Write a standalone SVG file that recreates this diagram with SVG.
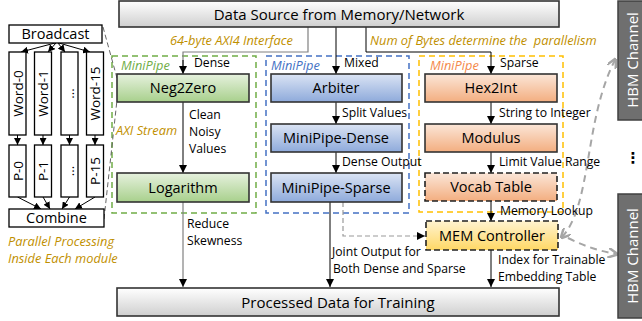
<svg xmlns="http://www.w3.org/2000/svg" width="642" height="321" viewBox="0 0 642 321">
<defs>
<linearGradient id="gGray" x1="0" y1="0" x2="0" y2="1"><stop offset="0" stop-color="#ffffff"/><stop offset="1" stop-color="#cfcfcf"/></linearGradient>
<linearGradient id="gGreen" x1="0" y1="0" x2="0" y2="1"><stop offset="0" stop-color="#e6f1de"/><stop offset="1" stop-color="#a8d08c"/></linearGradient>
<linearGradient id="gBlue" x1="0" y1="0" x2="0" y2="1"><stop offset="0" stop-color="#dbe4f4"/><stop offset="1" stop-color="#8eaadb"/></linearGradient>
<linearGradient id="gOrange" x1="0" y1="0" x2="0" y2="1"><stop offset="0" stop-color="#fbe6d8"/><stop offset="1" stop-color="#f3ae80"/></linearGradient>
<linearGradient id="gYellow" x1="0" y1="0" x2="0" y2="1"><stop offset="0" stop-color="#fff3d0"/><stop offset="1" stop-color="#ffd866"/></linearGradient>
<marker id="arr" viewBox="0 0 10 10" refX="10" refY="5" markerWidth="8" markerHeight="8" markerUnits="userSpaceOnUse" orient="auto"><path d="M0,0 L10,5 L0,10 z" fill="#000"/></marker>
<marker id="arrS" viewBox="0 0 10 10" refX="10" refY="5" markerWidth="7" markerHeight="7" markerUnits="userSpaceOnUse" orient="auto"><path d="M0,0 L10,5 L0,10 z" fill="#000"/></marker>
<marker id="arrG" viewBox="0 0 10 10" refX="8" refY="5" markerWidth="10" markerHeight="10" markerUnits="userSpaceOnUse" orient="auto"><path d="M0,0 L10,5 L0,10" fill="none" stroke="#a6a6a6" stroke-width="2.5"/></marker>
<marker id="arrGs" viewBox="0 0 10 10" refX="8" refY="5" markerWidth="10" markerHeight="10" markerUnits="userSpaceOnUse" orient="auto-start-reverse"><path d="M0,0 L10,5 L0,10" fill="none" stroke="#a6a6a6" stroke-width="2.5"/></marker>
</defs>
<style>
text{font-family:"Open Sans","Noto Sans","DejaVu Sans",sans-serif;fill:#000;white-space:pre}
.big{font-size:14.5px;text-anchor:middle}
.hdr{font-size:15px;text-anchor:middle}
.lbl{font-size:12.2px}
.ital{font-size:12.8px;font-style:italic;fill:#bf9000}
.mp{font-size:12.8px;font-style:italic}
.box{stroke:#333;stroke-width:1.6}
.dbox{stroke:#222;stroke-width:1.6;stroke-dasharray:6 3}
.wbox{fill:#fff;stroke:#000;stroke-width:1.3}
.wt{font-size:13.5px;text-anchor:middle}
.ln{fill:none;stroke:#000;stroke-width:1}
.lg{fill:none;stroke:#808080;stroke-width:1.2}
.hbm{fill:#6f6f6f;stroke:#404040;stroke-width:1.5}
.ht{font-size:15px;fill:#fff;text-anchor:middle}
.gd{fill:none;stroke:#a6a6a6;stroke-width:2;stroke-dasharray:7 5}
</style>

<!-- MiniPipe containers -->
<g id="minipipe-green">
<rect x="112" y="56" width="144" height="157" fill="none" stroke="#70ad47" stroke-width="1.5" stroke-dasharray="6 4"/>
<text class="mp" x="121" y="70" style="fill:#70ad47">MiniPipe</text>
</g>
<g id="minipipe-blue">
<rect x="266" y="56" width="143" height="157" fill="none" stroke="#4472c4" stroke-width="1.5" stroke-dasharray="6 4"/>
<text class="mp" x="271" y="70" style="fill:#4472c4">MiniPipe</text>
</g>
<g id="minipipe-orange">
<rect x="419" y="56" width="144" height="156" fill="none" stroke="#ffc000" stroke-width="1.5" stroke-dasharray="6 4"/>
<text class="mp" x="430" y="70" style="fill:#f4894b">MiniPipe</text>
</g>

<!-- Connectors -->
<g id="connectors">
<polyline class="lg" points="308,27 308,52 183,52 183,66"/>
<line class="ln" x1="183" y1="60" x2="183" y2="74" marker-end="url(#arr)"/>
<line class="ln" x1="336" y1="27" x2="336" y2="74" marker-end="url(#arr)"/>
<polyline class="ln" points="366,27 366,52 491,52 491,74" marker-end="url(#arr)"/>
<line class="ln" x1="183" y1="102" x2="183" y2="173" marker-end="url(#arr)"/>
<line class="lg" x1="183" y1="202" x2="183" y2="287" marker-end="url(#arr)"/>
<line class="ln" x1="336" y1="102" x2="336" y2="124" marker-end="url(#arr)"/>
<line class="ln" x1="336" y1="152" x2="336" y2="173" marker-end="url(#arr)"/>
<line class="ln" x1="330" y1="202" x2="330" y2="287" marker-end="url(#arr)"/>
<polyline points="343,202 343,236 425,236" fill="none" stroke="#999" stroke-width="1.2" stroke-dasharray="5 3" marker-end="url(#arr)"/>
<line class="ln" x1="491" y1="102" x2="491" y2="124" marker-end="url(#arr)"/>
<line class="ln" x1="491" y1="152" x2="491" y2="173" marker-end="url(#arr)"/>
<line class="ln" x1="491" y1="201" x2="491" y2="221" marker-end="url(#arr)"/>
<line class="ln" x1="491" y1="250" x2="491" y2="287" marker-end="url(#arr)"/>
<path class="gd" d="M562,237 C592,205 584,120 615,60" marker-start="url(#arrGs)" marker-end="url(#arrG)"/>
<path class="gd" d="M568,238 Q592,250 616,254" marker-end="url(#arrG)"/>
<!-- zoom lines -->
<line x1="103" y1="27" x2="117" y2="78" stroke="#555" stroke-width="0.9" stroke-dasharray="5 3"/>
<line x1="104" y1="219" x2="117" y2="100" stroke="#555" stroke-width="0.9" stroke-dasharray="5 3"/>
<!-- left panel arrows -->
<line class="ln" x1="55" y1="43" x2="21" y2="52" marker-end="url(#arrS)"/>
<line class="ln" x1="56" y1="43" x2="48" y2="52" marker-end="url(#arrS)"/>
<line class="ln" x1="58" y1="43" x2="65" y2="52" marker-end="url(#arrS)"/>
<line class="ln" x1="59" y1="43" x2="90" y2="52" marker-end="url(#arrS)"/>
<line class="ln" x1="17.5" y1="135" x2="17.5" y2="145" marker-end="url(#arrS)"/>
<line class="ln" x1="43" y1="135" x2="43" y2="145" marker-end="url(#arrS)"/>
<line class="ln" x1="69.5" y1="135" x2="69.5" y2="145" marker-end="url(#arrS)"/>
<line class="ln" x1="95" y1="135" x2="95" y2="145" marker-end="url(#arrS)"/>
<line class="ln" x1="17.5" y1="197" x2="41" y2="209" marker-end="url(#arrS)"/>
<line class="ln" x1="43" y1="197" x2="50" y2="209" marker-end="url(#arrS)"/>
<line class="ln" x1="69.5" y1="197" x2="62" y2="209" marker-end="url(#arrS)"/>
<line class="ln" x1="95" y1="197" x2="75" y2="209" marker-end="url(#arrS)"/>
</g>

<!-- Labels -->
<g id="labels">
<text class="ital" x="170" y="45">64-byte AXI4 Interface</text>
<text class="ital" x="370" y="45">Num of Bytes determine the  parallelism</text>
<text class="lbl" x="194" y="67">Dense</text>
<text class="lbl" x="344" y="67">Mixed</text>
<text class="lbl" x="500" y="67">Sparse</text>
<text class="lbl" x="189" y="119">Clean</text>
<text class="lbl" x="189" y="136">Noisy</text>
<text class="lbl" x="189" y="153">Values</text>
<text class="ital" x="116" y="135">AXI Stream</text>
<text class="lbl" x="187" y="228">Reduce</text>
<text class="lbl" x="187" y="245">Skewness</text>
<text class="lbl" x="342" y="117">Split Values</text>
<text class="lbl" x="342" y="166">Dense Output</text>
<text class="lbl" x="332" y="256">Joint Output for</text>
<text class="lbl" x="333" y="273">Both Dense and Sparse</text>
<text class="lbl" x="499" y="117">String to Integer</text>
<text class="lbl" x="499" y="166">Limit Value Range</text>
<text class="lbl" x="500" y="215">Memory Lookup</text>
<text class="lbl" x="498" y="264">Index for Trainable</text>
<text class="lbl" x="498" y="281">Embedding Table</text>
<text class="ital" x="8" y="246">Parallel Processing</text>
<text class="ital" x="8" y="263">Inside Each module</text>
</g>

<!-- Nodes -->
<g id="data-source"><rect class="box" x="119" y="1" width="440" height="26" fill="url(#gGray)"/><text class="hdr" x="339" y="19.5">Data Source from Memory/Network</text></g>
<g id="processed"><rect class="box" x="117" y="288" width="442" height="28" fill="url(#gGray)"/><text class="hdr" x="338" y="307.5">Processed Data for Training</text></g>
<g id="neg2zero"><rect class="box" x="117" y="74" width="132" height="28" fill="url(#gGreen)"/><text class="big" x="183" y="93">Neg2Zero</text></g>
<g id="logarithm"><rect class="box" x="117" y="173" width="132" height="29" fill="url(#gGreen)"/><text class="big" x="183" y="192.5">Logarithm</text></g>
<g id="arbiter"><rect class="box" x="271" y="74" width="131" height="28" fill="url(#gBlue)"/><text class="big" x="336" y="93">Arbiter</text></g>
<g id="minipipe-dense"><rect class="box" x="271" y="124" width="131" height="28" fill="url(#gBlue)"/><text class="big" x="336" y="143">MiniPipe-Dense</text></g>
<g id="minipipe-sparse"><rect class="box" x="271" y="173" width="131" height="29" fill="url(#gBlue)"/><text class="big" x="336" y="192.5">MiniPipe-Sparse</text></g>
<g id="hex2int"><rect class="box" x="425" y="74" width="132" height="28" fill="url(#gOrange)"/><text class="big" x="491" y="93">Hex2Int</text></g>
<g id="modulus"><rect class="box" x="425" y="124" width="132" height="28" fill="url(#gOrange)"/><text class="big" x="491" y="143">Modulus</text></g>
<g id="vocab-table"><rect class="dbox" x="425" y="173" width="132" height="28" fill="url(#gOrange)"/><text class="big" x="491" y="192">Vocab Table</text></g>
<g id="mem-controller"><rect class="dbox" x="426" y="221" width="132" height="29" fill="url(#gYellow)"/><text class="big" x="492" y="240.5">MEM Controller</text></g>
<g id="hbm-top"><rect class="hbm" x="618" y="1" width="30" height="119"/><text class="ht" transform="translate(637.5,60) rotate(-90)">HBM Channel</text></g>
<g id="hbm-dots"><text x="633" y="163" style="font-size:15px;text-anchor:middle;font-weight:bold">⋮</text></g>
<g id="hbm-bottom"><rect class="hbm" x="618" y="194" width="30" height="124"/><text class="ht" transform="translate(637.5,256) rotate(-90)">HBM Channel</text></g>

<!-- Left panel -->
<g id="broadcast"><rect class="wbox" x="9" y="25" width="93" height="18"/><text class="big" x="55.5" y="39">Broadcast</text></g>
<g id="word-0"><rect class="wbox" x="9" y="52" width="17" height="83"/><text class="wt" transform="translate(22.5,93.5) rotate(-90)">Word-0</text></g>
<g id="word-1"><rect class="wbox" x="34.5" y="52" width="17" height="83"/><text class="wt" transform="translate(48,93.5) rotate(-90)">Word-1</text></g>
<g id="word-dots"><rect class="wbox" x="61" y="52" width="17" height="83"/><text class="wt" transform="translate(74,93.5) rotate(-90)">...</text></g>
<g id="word-15"><rect class="wbox" x="86.5" y="52" width="17" height="83"/><text class="wt" transform="translate(100,93.5) rotate(-90)">Word-15</text></g>
<g id="p-0"><rect class="wbox" x="9" y="145" width="17" height="52"/><text class="wt" transform="translate(22.5,171) rotate(-90)">P-0</text></g>
<g id="p-1"><rect class="wbox" x="34.5" y="145" width="17" height="52"/><text class="wt" transform="translate(48,171) rotate(-90)">P-1</text></g>
<g id="p-dots"><rect class="wbox" x="61" y="145" width="17" height="52"/><text class="wt" transform="translate(74,171) rotate(-90)">...</text></g>
<g id="p-15"><rect class="wbox" x="86.5" y="145" width="17" height="52"/><text class="wt" transform="translate(100,171) rotate(-90)">P-15</text></g>
<g id="combine"><rect class="wbox" x="9" y="209" width="95" height="18"/><text class="big" x="56.5" y="223">Combine</text></g>
</svg>
